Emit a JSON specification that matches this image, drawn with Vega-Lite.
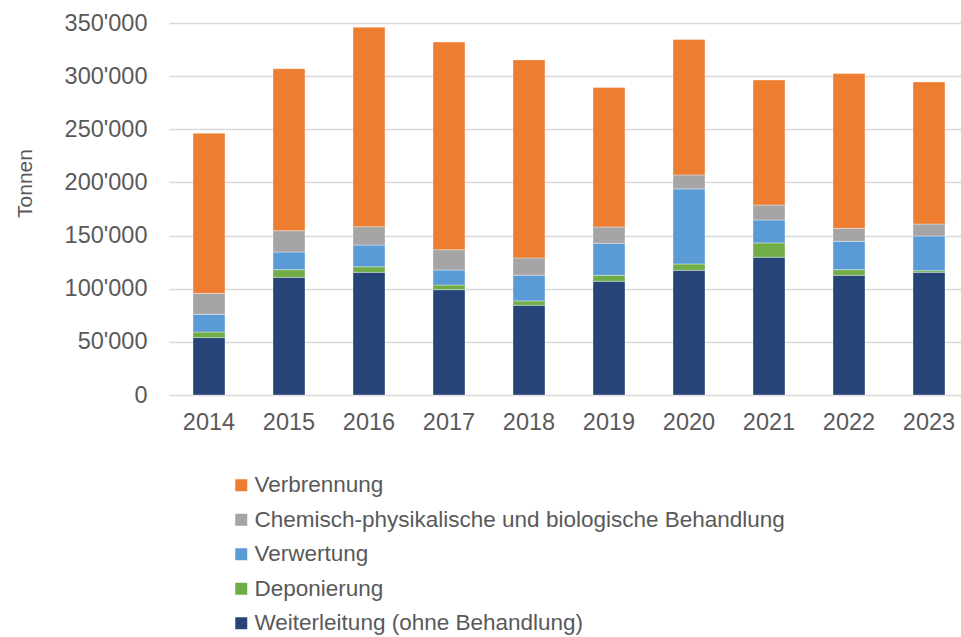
{
  "$schema": "https://vega.github.io/schema/vega-lite/v6.json",
  "width": 792,
  "height": 372,
  "autosize": {"type": "none"},
  "padding": {"left": 169, "top": 23, "right": 0, "bottom": 242},
  "background": "#ffffff",
  "config": {
    "font": "Liberation Sans",
    "view": {"stroke": null}
  },
  "data": {
    "values": [
      {"year": "2014", "category": "Weiterleitung (ohne Behandlung)", "value": 54000},
      {"year": "2014", "category": "Deponierung", "value": 5300},
      {"year": "2014", "category": "Verwertung", "value": 16600},
      {"year": "2014", "category": "Chemisch-physikalische und biologische Behandlung", "value": 19800},
      {"year": "2014", "category": "Verbrennung", "value": 150600},
      {"year": "2015", "category": "Weiterleitung (ohne Behandlung)", "value": 110700},
      {"year": "2015", "category": "Deponierung", "value": 7200},
      {"year": "2015", "category": "Verwertung", "value": 16600},
      {"year": "2015", "category": "Chemisch-physikalische und biologische Behandlung", "value": 20100},
      {"year": "2015", "category": "Verbrennung", "value": 152400},
      {"year": "2016", "category": "Weiterleitung (ohne Behandlung)", "value": 115400},
      {"year": "2016", "category": "Deponierung", "value": 5300},
      {"year": "2016", "category": "Verwertung", "value": 20400},
      {"year": "2016", "category": "Chemisch-physikalische und biologische Behandlung", "value": 17300},
      {"year": "2016", "category": "Verbrennung", "value": 187600},
      {"year": "2017", "category": "Weiterleitung (ohne Behandlung)", "value": 99100},
      {"year": "2017", "category": "Deponierung", "value": 4400},
      {"year": "2017", "category": "Verwertung", "value": 14100},
      {"year": "2017", "category": "Chemisch-physikalische und biologische Behandlung", "value": 19100},
      {"year": "2017", "category": "Verbrennung", "value": 195400},
      {"year": "2018", "category": "Weiterleitung (ohne Behandlung)", "value": 84400},
      {"year": "2018", "category": "Deponierung", "value": 4100},
      {"year": "2018", "category": "Verwertung", "value": 24200},
      {"year": "2018", "category": "Chemisch-physikalische und biologische Behandlung", "value": 16300},
      {"year": "2018", "category": "Verbrennung", "value": 186300},
      {"year": "2019", "category": "Weiterleitung (ohne Behandlung)", "value": 107000},
      {"year": "2019", "category": "Deponierung", "value": 5600},
      {"year": "2019", "category": "Verwertung", "value": 30100},
      {"year": "2019", "category": "Chemisch-physikalische und biologische Behandlung", "value": 15400},
      {"year": "2019", "category": "Verbrennung", "value": 131100},
      {"year": "2020", "category": "Weiterleitung (ohne Behandlung)", "value": 117300},
      {"year": "2020", "category": "Deponierung", "value": 6000},
      {"year": "2020", "category": "Verwertung", "value": 70600},
      {"year": "2020", "category": "Chemisch-physikalische und biologische Behandlung", "value": 13200},
      {"year": "2020", "category": "Verbrennung", "value": 127400},
      {"year": "2021", "category": "Weiterleitung (ohne Behandlung)", "value": 129600},
      {"year": "2021", "category": "Deponierung", "value": 13500},
      {"year": "2021", "category": "Verwertung", "value": 21600},
      {"year": "2021", "category": "Chemisch-physikalische und biologische Behandlung", "value": 14100},
      {"year": "2021", "category": "Verbrennung", "value": 117600},
      {"year": "2022", "category": "Weiterleitung (ohne Behandlung)", "value": 112600},
      {"year": "2022", "category": "Deponierung", "value": 5300},
      {"year": "2022", "category": "Verwertung", "value": 26700},
      {"year": "2022", "category": "Chemisch-physikalische und biologische Behandlung", "value": 12200},
      {"year": "2022", "category": "Verbrennung", "value": 145600},
      {"year": "2023", "category": "Weiterleitung (ohne Behandlung)", "value": 115400},
      {"year": "2023", "category": "Deponierung", "value": 1600},
      {"year": "2023", "category": "Verwertung", "value": 32600},
      {"year": "2023", "category": "Chemisch-physikalische und biologische Behandlung", "value": 11300},
      {"year": "2023", "category": "Verbrennung", "value": 133600}
    ]
  },
  "transform": [
    {"calculate": "indexof(['Weiterleitung (ohne Behandlung)','Deponierung','Verwertung','Chemisch-physikalische und biologische Behandlung','Verbrennung'], datum.category)", "as": "stackorder"}
  ],
  "mark": {"type": "bar", "stroke": "#ffffff", "strokeWidth": 0.6, "strokeOpacity": 0.6},
  "encoding": {
    "x": {
      "field": "year",
      "type": "ordinal",
      "scale": {"paddingInner": 0.6, "paddingOuter": 0.25, "align": 0.6},
      "axis": {
        "title": null,
        "domain": false,
        "ticks": false,
        "labelAngle": 0,
        "labelFontSize": 23.5,
        "labelColor": "#595959",
        "labelPadding": 15,
        "grid": false
      }
    },
    "y": {
      "field": "value",
      "type": "quantitative",
      "stack": "zero",
      "scale": {"domain": [0, 350000], "nice": false},
      "axis": {
        "title": "Tonnen",
        "titleFontSize": 21,
        "titleFontWeight": "normal",
        "titleColor": "#595959",
        "titleX": -138,
        "titleY": 160,
        "titleBaseline": "alphabetic",
        "values": [0, 50000, 100000, 150000, 200000, 250000, 300000, 350000],
        "labelExpr": "replace(format(datum.value, ','), /,/g, \"'\")",
        "labelFontSize": 23.5,
        "labelColor": "#595959",
        "labelPadding": 22,
        "domain": false,
        "ticks": false,
        "grid": true,
        "gridColor": "#D9D9D9",
        "gridWidth": 1.5
      }
    },
    "color": {
      "field": "category",
      "type": "nominal",
      "scale": {
        "domain": ["Verbrennung", "Chemisch-physikalische und biologische Behandlung", "Verwertung", "Deponierung", "Weiterleitung (ohne Behandlung)"],
        "range": ["#ED7D31", "#A5A5A5", "#5B9BD5", "#70AD47", "#264478"]
      },
      "legend": {
        "title": null,
        "orient": "none",
        "legendX": 61,
        "legendY": 451,
        "direction": "vertical",
        "symbolType": "square",
        "symbolSize": 144,
        "symbolStrokeWidth": 0,
        "labelFontSize": 22.5,
        "labelColor": "#595959",
        "labelOffset": 2,
        "labelLimit": 800,
        "rowPadding": 11.5
      }
    },
    "order": {"field": "stackorder", "type": "quantitative", "sort": "ascending"}
  }
}
